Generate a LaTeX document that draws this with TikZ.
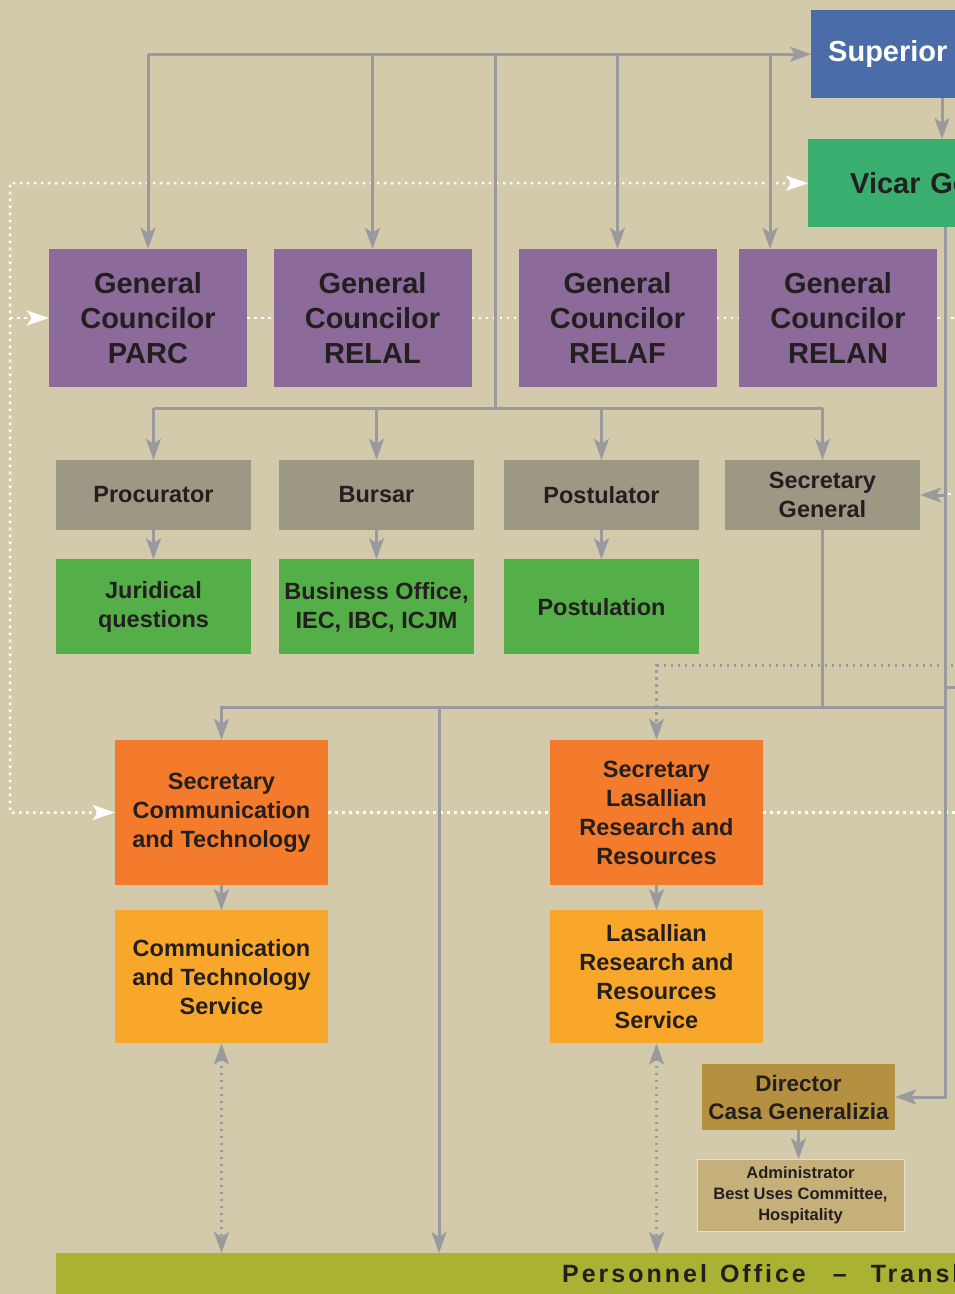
\documentclass[tikz,border=0pt]{standalone}
\usepackage{fontspec}
\setmainfont{Liberation Sans}
\usepackage{xcolor}
\usepackage{tikz}
\usetikzlibrary{arrows.meta}
\usetikzlibrary{positioning}

\definecolor{sand}{HTML}{D3CAAB}
\definecolor{supblue}{HTML}{4A6CA8}
\definecolor{vicgreen}{HTML}{3AAE6E}
\definecolor{councpurple}{HTML}{8C6A9A}
\definecolor{offgrey}{HTML}{9D9883}
\definecolor{deptgreen}{HTML}{55AF48}
\definecolor{secorange}{HTML}{F47B2B}
\definecolor{servorange}{HTML}{F9A72A}
\definecolor{dirbrown}{HTML}{B59040}
\definecolor{admtan}{HTML}{C6B07A}
\definecolor{barolive}{HTML}{A9B233}
\definecolor{linegrey}{HTML}{999A9E}
\definecolor{txt}{HTML}{231F20}

\begin{document}
\begin{tikzpicture}[x=1pt, y=-1pt]
        \tikzset{
            every node/.style={
                align=center,
                text=txt,
                inner sep=0pt,
                font=\bfseries,
            },
            council/.style={fill=councpurple, minimum width=198pt, minimum height=138pt,
                font=\bfseries\fontsize{29}{35}\selectfont},
            office/.style={fill=offgrey, minimum width=195pt, minimum height=70pt,
                font=\bfseries\fontsize{23.5}{28.5}\selectfont},
            dept/.style={fill=deptgreen, minimum width=195pt, minimum height=95pt,
                font=\bfseries\fontsize{23.5}{29}\selectfont},
            secr/.style={fill=secorange, minimum width=213pt, minimum height=145pt,
                font=\bfseries\fontsize{23.5}{29}\selectfont},
            serv/.style={fill=servorange, minimum width=213pt, minimum height=133pt,
                font=\bfseries\fontsize{23.5}{29}\selectfont},
            conn/.style={draw=linegrey, line width=3pt, >={Stealth[length=21pt, width=15pt, inset=5pt]}},
            gdot/.style={conn, line width=2.5pt, dash pattern=on 2.5pt off 4.5pt},
            wdot/.style={draw=white, line width=2.5pt, dash pattern=on 2.5pt off 4.5pt,
                >={Stealth[length=22pt, width=15pt, inset=5pt]}},
        }
        \useasboundingbox (0,0) rectangle (955,1294);
        \clip (0,0) rectangle (955,1294);
        \fill[sand] (0,0) rectangle (955,1294);

        % top of the chart
        \node[fill=supblue, anchor=north west, minimum height=88pt, text width=180pt, inner xsep=17pt,
            align=left, text=white, font=\bfseries\fontsize{29}{35}\selectfont] (sup) at (811,10) {Superior};
        \node[fill=vicgreen, anchor=north west, minimum height=88pt, text width=200pt, inner xsep=42pt,
            align=left, font=\bfseries\fontsize{29}{35}\selectfont] (vic) at (808,139) {Vicar General};

        \node[council] (parc) at (148,318) {General\\Councilor\\PARC};
        \node[council] (relal) at (372.5,318) {General\\Councilor\\RELAL};
        \node[council] (relaf) at (617.5,318) {General\\Councilor\\RELAF};
        \node[council] (relan) at (838,318) {General\\Councilor\\RELAN};

        \node[office] (proc) at (153.5,495) {Procurator};
        \node[office] (burs) at (376.5,495) {Bursar};
        \node[office] (post) at (601.5,495) {Postulator};
        \node[office] (secg) at (822.5,495) {Secretary\\General};

        \node[dept, below=29pt of proc] (jur) {Juridical\\questions};
        \node[dept, below=29pt of burs] (busi) {Business Office,\\IEC, IBC, ICJM};
        \node[dept, below=29pt of post] (postn) {Postulation};

        \node[secr] (secct) at (221.5,812.5) {Secretary\\Communication\\and Technology};
        \node[secr] (seclr) at (656.5,812.5) {Secretary\\Lasallian\\Research and\\Resources};
        \node[serv, below=25pt of secct] (servct) {Communication\\and Technology\\Service};
        \node[serv, below=25pt of seclr] (servlr) {Lasallian\\Research and\\Resources\\Service};

        \node[fill=dirbrown, minimum width=193pt, minimum height=66pt,
            font=\bfseries\fontsize{22.5}{28}\selectfont] (dir) at (798.5,1097) {Director\\Casa Generalizia};
        \node[fill=admtan, draw=sand!60!white, line width=1pt, minimum width=207pt, minimum height=72pt,
            font=\bfseries\fontsize{16.5}{21}\selectfont, below=29pt of dir, xshift=2pt] (adm)
            {Administrator\\Best Uses Committee,\\Hospitality};

        \node[fill=barolive, anchor=north west, minimum height=41pt, text width=1000pt, align=left,
            font=\bfseries\fontsize{25}{30}\selectfont\addfontfeature{LetterSpace=12}] (pers) at (56,1253)
            {\hspace*{506pt}Personnel\hspace{13pt}Office\hspace{27pt}--\hspace{24pt}Translation};

        % white dotted links
        \coordinate (wl) at (10,183);
        \draw[wdot,<->] (secct.west) -| (wl) -- (vic.west);
        \draw[wdot,->] (wl |- parc.west) -- (parc.west);
        \draw[wdot] (parc) -- (relal);
        \draw[wdot] (relal) -- (relaf);
        \draw[wdot] (relaf) -- (relan);
        \draw[wdot] (relan.east) -- (960,318);
        \draw[wdot] (secct) -- (seclr);
        \draw[wdot] (seclr.east) -- (960,812.5);
        \draw[wdot] (948,494) -- (960,494);

        % superior to the councilors
        \draw[conn,->] (parc.north |- sup.west) -- (sup.west);
        \foreach \n in {parc, relal, relaf}
            \draw[conn,->] (\n.north |- sup.west) -- (\n.north);
        \draw[conn,->] ([xshift=-68pt]relan.north |- sup.west) -- ([xshift=-68pt]relan.north);
        \coordinate (bus) at (495,408);
        \draw[conn] (bus |- sup.west) -- (bus);
        \draw[conn] (proc.north |- bus) -- (secg.north |- bus);
        \foreach \n in {proc, burs, post, secg}
            \draw[conn,->] (\n.north |- bus) -- (\n.north);
        \draw[conn,->] (proc) -- (jur);
        \draw[conn,->] (burs) -- (busi);
        \draw[conn,->] (post) -- (postn);

        % vicar general spine
        \draw[conn,->] ([xshift=131pt]sup.south west) -- ([xshift=131pt]sup.south west |- vic.north);
        \coordinate (v1) at ([xshift=137pt]vic.south west);
        \coordinate (lowbus) at (945,707);
        \draw[conn,->] (v1) |- (dir.east);
        \draw[conn,->] (v1 |- secg.east) -- (secg.east);
        \draw[conn,->] (lowbus) -| (secct.north);
        \draw[conn] (secg.south) -- (secg.south |- lowbus);
        \draw[conn,->] (lowbus -| 439,0) -- (pers.north -| 439,0);
        \draw[conn] (945,687) -- (960,687);
        \draw[gdot,->] (960,665.5) -| (seclr.north);

        \draw[conn,->] (secct) -- (servct);
        \draw[conn,->] (seclr) -- (servlr);
        \draw[conn,->] (dir) -- (dir.south |- adm.north);
        \draw[gdot,<->] (servct.south) -- (servct.south |- pers.north);
        \draw[gdot,<->] (servlr.south) -- (servlr.south |- pers.north);
    \end{tikzpicture}
\end{document}
